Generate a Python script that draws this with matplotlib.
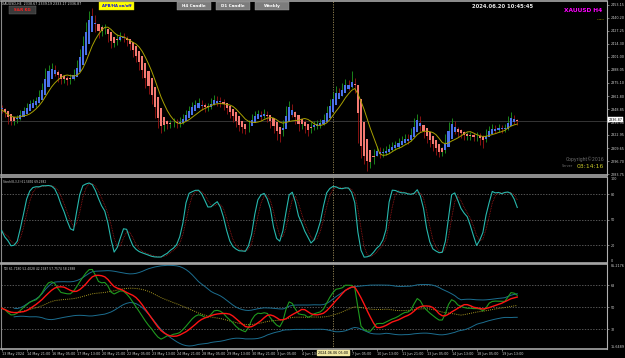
import numpy as np
import pandas as pd
import matplotlib
matplotlib.use("Agg")
import matplotlib.pyplot as plt
import matplotlib.transforms as mtrans
from matplotlib.patches import Rectangle

# ---------------- data ----------------
first_open = 2350.0
close = [2348, 2344, 2338, 2336, 2338, 2340, 2345, 2348, 2352, 2355, 2356, 2358, 2364,
         2372, 2385, 2388, 2390, 2386, 2380, 2378, 2379, 2377, 2380,
         2385, 2395, 2405, 2418, 2432, 2442, 2440, 2430, 2426, 2428, 2428, 2420, 2414, 2416,
         2420, 2422, 2420, 2416, 2412,
         2405, 2400, 2392, 2385, 2375, 2368, 2358, 2345, 2335, 2330,
         2335, 2333, 2334, 2336, 2334, 2337, 2340, 2344, 2348, 2352, 2354,
         2355, 2352, 2350, 2351, 2356, 2358, 2357, 2356,
         2352, 2348, 2345, 2340, 2335, 2332, 2330, 2328,
         2335, 2340, 2343, 2344, 2342, 2345, 2340, 2335, 2330, 2326, 2325,
         2335, 2348, 2352, 2345, 2338, 2332, 2335, 2330, 2328, 2332, 2333, 2334, 2335,
         2340, 2348, 2355, 2362, 2366, 2365, 2370, 2374, 2372, 2376,
         2370, 2320, 2305, 2300, 2295, 2297, 2305, 2308, 2304, 2306,
         2308, 2310, 2312, 2313, 2316, 2318, 2320, 2319, 2325, 2335, 2340,
         2330, 2325, 2320, 2316, 2312, 2308, 2305, 2307, 2320, 2332, 2335,
         2328, 2325, 2324, 2322, 2322, 2322, 2321, 2322, 2320, 2318,
         2326, 2328, 2330, 2329, 2330, 2329, 2330, 2338, 2340, 2338, 2336.87]
high = [2353, 2350, 2346, 2341, 2341, 2343, 2348, 2351, 2355, 2358, 2359, 2361, 2368,
        2375, 2390, 2393, 2395, 2393, 2388, 2383, 2383, 2382, 2384,
        2389, 2398, 2409, 2422, 2436, 2447, 2450, 2443, 2433, 2433, 2434, 2430, 2422, 2420,
        2424, 2426, 2425, 2422, 2418,
        2414, 2408, 2403, 2395, 2388, 2380, 2372, 2361, 2348, 2338,
        2339, 2338, 2338, 2340, 2339, 2341, 2344, 2348, 2352, 2356, 2358,
        2360, 2358, 2355, 2355, 2360, 2363, 2362, 2361,
        2359, 2355, 2351, 2348, 2343, 2338, 2336, 2334,
        2338, 2344, 2347, 2348, 2347, 2349, 2347, 2342, 2338, 2333, 2330,
        2338, 2352, 2357, 2354, 2347, 2340, 2339, 2338, 2333, 2336, 2337, 2338, 2339,
        2344, 2352, 2359, 2366, 2372, 2370, 2375, 2379, 2378, 2387,
        2380, 2373, 2324, 2310, 2304, 2302, 2309, 2312, 2311, 2310,
        2312, 2314, 2316, 2317, 2320, 2322, 2324, 2324, 2330, 2340, 2344,
        2342, 2333, 2328, 2323, 2319, 2315, 2311, 2311, 2324, 2336, 2340,
        2337, 2331, 2329, 2327, 2326, 2326, 2325, 2326, 2325, 2323,
        2329, 2332, 2334, 2333, 2334, 2333, 2334, 2342, 2346, 2343, 2339.19]
low = [2345, 2341, 2334, 2333, 2333, 2335, 2338, 2343, 2346, 2349, 2351, 2351, 2355,
       2361, 2370, 2382, 2384, 2382, 2376, 2374, 2375, 2373, 2374,
       2378, 2383, 2393, 2403, 2416, 2430, 2436, 2426, 2420, 2422, 2424, 2416, 2410, 2411,
       2413, 2417, 2416, 2412, 2408,
       2401, 2396, 2388, 2380, 2370, 2364, 2354, 2340, 2330, 2325,
       2327, 2329, 2330, 2331, 2330, 2331, 2334, 2338, 2342, 2346, 2349,
       2350, 2348, 2346, 2347, 2349, 2353, 2352, 2351,
       2348, 2344, 2340, 2336, 2331, 2327, 2325, 2324,
       2326, 2333, 2338, 2340, 2338, 2340, 2336, 2330, 2325, 2318, 2316,
       2322, 2333, 2345, 2341, 2334, 2327, 2329, 2325, 2322, 2325, 2328, 2329, 2330,
       2333, 2338, 2346, 2352, 2359, 2360, 2362, 2367, 2368, 2370,
       2365, 2315, 2300, 2294, 2287, 2290, 2294, 2302, 2300, 2301,
       2303, 2305, 2307, 2308, 2310, 2313, 2315, 2314, 2317, 2323, 2332,
       2326, 2320, 2315, 2311, 2307, 2303, 2301, 2302, 2305, 2318, 2329,
       2324, 2321, 2320, 2318, 2318, 2318, 2317, 2317, 2313, 2310,
       2316, 2323, 2325, 2325, 2326, 2325, 2326, 2328, 2335, 2334, 2333.17]

price_ticks = [2283.75, 2296.70, 2309.65, 2322.95, 2335.90, 2348.85, 2361.80,
               2375.10, 2388.05, 2401.00, 2414.30, 2427.25, 2440.20, 2453.15]
stoch_levels = [80, 50, 20]
tdi_levels = [68, 50, 32]
tdi_range = [15.6489, 85.2176]
rsi_period = 17
rsi_seed = 3.0
date_labels = ["13 May 2024", "14 May 21:00", "16 May 05:00", "17 May 13:00", "20 May 21:00",
               "22 May 05:00", "23 May 13:00", "24 May 21:00", "28 May 05:00", "29 May 13:00",
               "30 May 21:00", "3 Jun 05:00", "4 Jun 13:00", "", "7 Jun 05:00",
               "10 Jun 13:00", "11 Jun 21:00", "13 Jun 05:00", "14 Jun 13:00", "18 Jun 05:00",
               "19 Jun 13:00"]
date_step = 8
cross_bar = 106
cross_label = "2024.06.06 05:00"
info_text = "XAUUSD,H4  2338.67 2339.19 2333.17 2336.87"
stoch_text = "Stoch(8,3,3) 61.5892 69.2682"
tdi_text = "TDI 61.7180 52.4028 42.1587 57.7574 58.2388"

# ---------------- derived series ----------------
c = np.array(close, float)
h = np.array(high, float)
l = np.array(low, float)
n = len(c)
o = np.r_[first_open, c[:-1]]
x = np.arange(n)

ha_c = (o + h + l + c) / 4
ha_o = np.empty(n)
ha_o[0] = (o[0] + c[0]) / 2
for i in range(1, n):
    ha_o[i] = (ha_o[i - 1] + ha_c[i - 1]) / 2

cs = pd.Series(c)
ma = cs.rolling(8, min_periods=1).mean()

hh = pd.Series(h).rolling(8, min_periods=1).max()
ll = pd.Series(l).rolling(8, min_periods=1).min()
k = 100 * (cs - ll).rolling(3, min_periods=1).sum() / (hh - ll).rolling(3, min_periods=1).sum()
d = k.rolling(3, min_periods=1).mean()

# RSI, Wilder smoothing
delta = np.r_[c[0] - first_open, np.diff(c)]
ag, al = rsi_seed, rsi_seed
rsi_vals = []
for dv in delta:
    ag = (ag * (rsi_period - 1) + max(dv, 0)) / rsi_period
    al = (al * (rsi_period - 1) + max(-dv, 0)) / rsi_period
    rsi_vals.append(100 - 100 / (1 + ag / al))
rsi = pd.Series(rsi_vals)
tdi_green = rsi.rolling(2, min_periods=1).mean()
tdi_red = rsi.rolling(7, min_periods=1).mean()
tdi_base = rsi.rolling(34, min_periods=1).mean()
tdi_std = rsi.rolling(34, min_periods=5).std(ddof=0)
tdi_up = tdi_base + 1.6185 * tdi_std
tdi_dn = tdi_base - 1.6185 * tdi_std

# ---------------- figure ----------------
W, H = 625, 358
fig = plt.figure(figsize=(W / 100, H / 100), dpi=100, facecolor="black")
SMALL = 2.4
LBL = "#cfcfcf"
GRID = "#777777"


def fx(px):
    return px / W


def fy(py):
    return 1 - py / H


def make_ax(top, bottom):
    ax = fig.add_axes([fx(1), fy(bottom), fx(606), (bottom - top) / H], facecolor="black")
    for s in ["top", "bottom"]:
        ax.spines[s].set_color("#a8a8a8")
        ax.spines[s].set_linewidth(1.2)
    ax.spines["left"].set_color("#8a8a8a")
    ax.spines["left"].set_linewidth(0.8)
    ax.spines["right"].set_color("#b0b0b0")
    ax.spines["right"].set_linewidth(0.8)
    ax.set_xlim(-0.2, -0.2 + 606 / 3.125)
    ax.yaxis.tick_right()
    ax.tick_params(axis="y", labelsize=SMALL, colors=LBL, length=1.5, width=0.4, pad=1)
    ax.tick_params(axis="x", bottom=False, labelbottom=False)
    ax.axvline(cross_bar, color="#9c8c5a", lw=0.6, ls=(0, (1.5, 1.5)), zorder=1)
    return ax


ax_p = make_ax(1, 175)
ax_s = make_ax(177, 262.6)
ax_t = make_ax(264, 349)

# main price panel
bull = c >= o
ax_p.vlines(x, l, h, colors=np.where(bull, "#1e9a1e", "#9c1414"), lw=0.6, zorder=2)
ha_bull = ha_c >= ha_o
ax_p.bar(x, np.maximum(np.abs(ha_c - ha_o), 0.8), bottom=np.minimum(ha_o, ha_c), width=0.66,
         color=np.where(ha_bull, "#4a72e8", "#f47a72"), linewidth=0, zorder=3)
ax_p.plot(x, ma, color="#a8a000", lw=0.7, zorder=4)
ax_p.axhline(c[-1], color="#4a4a4a", lw=0.5, zorder=1)
ax_p.set_ylim(2282.9, 2456.9)
ax_p.set_yticks(price_ticks)
ax_p.set_yticklabels([f"{v:.2f}" for v in price_ticks])
tr = mtrans.blended_transform_factory(ax_p.transAxes, ax_p.transData)
ax_p.text(1.003, c[-1] + 1.5, f"{c[-1]:.2f}", transform=tr, fontsize=SMALL, color="black",
          va="center", ha="left",
          bbox=dict(boxstyle="square,pad=0.15", fc="white", ec="white", lw=0.3))
ax_p.plot([597, 603], [2438.5, 2438.5], transform=mtrans.blended_transform_factory(
    mtrans.IdentityTransform(), ax_p.transData), color="#a8a000", lw=0.5, ls=(0, (1, 1)))

# stochastic panel
ax_s.plot(x, d, color="#a01818", lw=0.6, ls=(0, (1, 1)), zorder=2)
ax_s.plot(x, k, color="#27b8ad", lw=0.8, zorder=3)
for lv in stoch_levels:
    ax_s.axhline(lv, color=GRID, lw=0.5, ls=(0, (2, 2)), zorder=1)
ax_s.set_ylim(0, 100)
ax_s.set_yticks(stoch_levels)
trs = mtrans.blended_transform_factory(ax_s.transAxes, ax_s.transData)
ax_s.text(1.006, 100, "100", transform=trs, fontsize=SMALL, color=LBL, va="top", ha="left")
ax_s.text(1.006, 0, "0", transform=trs, fontsize=SMALL, color=LBL, va="bottom", ha="left")
ax_s.text(0.003, 0.97, stoch_text, transform=ax_s.transAxes, fontsize=2.1, color=LBL, va="top")

# TDI panel
ax_t.plot(x, tdi_up, color="#1c6e90", lw=0.7, zorder=2)
ax_t.plot(x, tdi_dn, color="#1c6e90", lw=0.7, zorder=2)
ax_t.plot(x, tdi_base, color="#a89820", lw=0.7, ls=(0, (1, 1.2)), zorder=2)
ax_t.plot(x, tdi_green, color="#1f9a1f", lw=0.8, zorder=3)
ax_t.plot(x, tdi_red, color="#ff1414", lw=1.0, zorder=4)
for lv in tdi_levels:
    ax_t.axhline(lv, color=GRID, lw=0.5, ls=(0, (2, 2)), zorder=1)
ax_t.set_ylim(*tdi_range)
ax_t.set_yticks(tdi_levels)
trt = mtrans.blended_transform_factory(ax_t.transAxes, ax_t.transData)
ax_t.text(1.006, tdi_range[1], f"{tdi_range[1]:.4f}", transform=trt, fontsize=SMALL, color=LBL,
          va="top", ha="left")
ax_t.text(1.006, tdi_range[0], f"{tdi_range[0]:.4f}", transform=trt, fontsize=SMALL, color=LBL,
          va="bottom", ha="left")
ax_t.text(0.003, 0.97, tdi_text, transform=ax_t.transAxes, fontsize=2.2, color=LBL, va="top")

# time axis
ax_t.set_xticks(np.arange(len(date_labels)) * date_step)
ax_t.set_xticklabels(date_labels, ha="left")
ax_t.tick_params(axis="x", bottom=True, labelbottom=True, labelsize=SMALL, colors=LBL,
                 length=1.5, width=0.4, pad=0.8)
cx = ax_t.transData.transform((cross_bar, 0))[0]
fig.text(cx / fig.bbox.width, fy(352.5), cross_label, fontsize=SMALL, color="black",
         ha="center", va="center", zorder=10,
         bbox=dict(boxstyle="square,pad=0.25", fc="#efe6a0", ec="#efe6a0"))

# header texts and buttons
fig.text(fx(2), fy(4), info_text, fontsize=2.3, color="#e0e0e0", va="center", ha="left")
fig.patches.append(Rectangle((fx(9), fy(13.5)), fx(27), 7.5 / H, transform=fig.transFigure,
                             fc="#3a3a3a", ec="#6a6a6a", lw=0.3))
fig.text(fx(22.5), fy(9.8), "S&R KG", fontsize=2.8, color="#ff2020", weight="bold",
         ha="center", va="center")
fig.patches.append(Rectangle((fx(99), fy(9.5)), fx(35), 7.5 / H, transform=fig.transFigure,
                             fc="#ffff00", ec="#d0d000", lw=0.3))
fig.text(fx(116.5), fy(5.8), "APB/HA on/off", fontsize=2.7, color="#1010e0", weight="bold",
         ha="center", va="center")
for bx, lab in [(177, "H4 Candle"), (216, "D1 Candle"), (255, "Weekly")]:
    fig.patches.append(Rectangle((fx(bx), fy(9.5)), fx(34), 7.5 / H, transform=fig.transFigure,
                                 fc="#7c7c7c", ec="#a0a0a0", lw=0.3))
    fig.text(fx(bx + 17), fy(5.8), lab, fontsize=3.0, color="white", weight="bold",
             ha="center", va="center")
fig.text(fx(503), fy(6), "2024.06.20 10:45:45", fontsize=3.8, color="#e8e8e8", weight="bold",
         ha="center", va="center")
fig.text(fx(583), fy(10), "XAUUSD H4", fontsize=4.2, color="#ff00ff", weight="bold",
         ha="center", va="center")
fig.text(fx(604), fy(159), "Copyright\u00a92016", fontsize=3.3, color="#707070",
         ha="right", va="center")
fig.text(fx(573), fy(166), "Server", fontsize=2.4, color="#707070", ha="right", va="center")
fig.text(fx(604), fy(166), "03:14:16", fontsize=4.4, color="#c8c828", ha="right", va="center")

fig.savefig("out.png", dpi=100, facecolor="black")
